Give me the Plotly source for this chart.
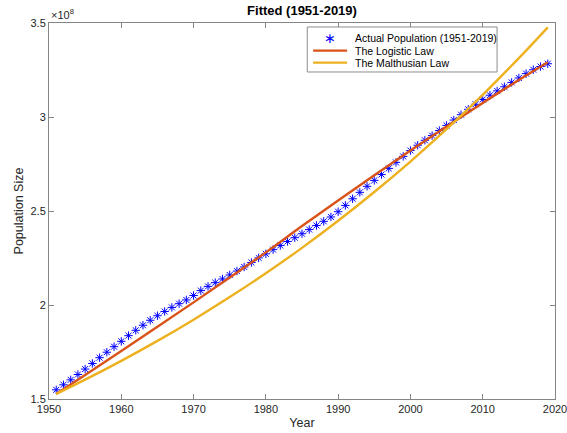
import plotly.graph_objects as go

# Actual population (millions)
years = list(range(1951, 2020))
population_millions = [
    154.88, 157.55, 160.18, 163.03, 165.93, 168.90, 171.98, 174.88, 177.83, 180.67,
    183.69, 186.54, 189.24, 191.89, 194.30, 196.56, 198.71, 200.71, 202.68, 205.05,
    207.66, 209.90, 211.91, 213.85, 215.97, 218.04, 220.24, 222.59, 225.06, 227.22,
    229.47, 231.66, 233.79, 235.82, 237.92, 240.13, 242.29, 244.50, 246.82, 249.62,
    252.98, 256.51, 259.92, 263.13, 266.28, 269.39, 272.65, 275.85, 279.04, 282.16,
    284.97, 287.63, 290.11, 292.81, 295.52, 298.38, 301.23, 304.09, 306.77, 309.33,
    311.58, 313.87, 316.06, 318.39, 320.74, 323.07, 325.15, 326.84, 328.33,
]

# Fitted curves (units of 1e8)
fit_years = [1951, 1955, 1960, 1965, 1970, 1975, 1980, 1985, 1990, 1995, 2000, 2005, 2010, 2015, 2019]
logistic_fit = [1.527, 1.628, 1.755, 1.884, 2.014, 2.146, 2.280, 2.420, 2.556, 2.690, 2.822, 2.950, 3.075, 3.197, 3.291]
malthus_fit = [1.527, 1.603, 1.703, 1.809, 1.922, 2.042, 2.169, 2.304, 2.448, 2.601, 2.763, 2.935, 3.118, 3.313, 3.477]

series_names = ["Actual Population (1951-2019)", "The Logistic Law", "The Malthusian Law"]
x_ticks = [1950, 1960, 1970, 1980, 1990, 2000, 2010, 2020]
y_ticks = [1.5, 2, 2.5, 3, 3.5]
y_tick_labels = ["1.5", "2", "2.5", "3", "3.5"]

pop_scaled = [p / 100.0 for p in population_millions]

font_family = "Liberation Sans, Arial, Helvetica, sans-serif"
axis_color = "#858585"
text_color = "#262626"
blue = "#0000FF"
red = "#D95319"
yellow = "#EDB120"

fig = go.Figure()
fig.add_trace(go.Scatter(
    x=years, y=pop_scaled, mode="markers", name=series_names[0],
    marker=dict(symbol="asterisk-open", size=7, color=blue, line=dict(color=blue, width=1)),
))
fig.add_trace(go.Scatter(
    x=fit_years, y=logistic_fit, mode="lines", name=series_names[1],
    line=dict(color=red, width=2.4, shape="spline"),
))
fig.add_trace(go.Scatter(
    x=fit_years, y=malthus_fit, mode="lines", name=series_names[2],
    line=dict(color=yellow, width=2.4, shape="spline"),
))

# Compact MATLAB-style legend (paper coordinates)
lx0, lx1, ly0, ly1 = 0.5104, 0.8855, 0.8697, 0.9894
row_y = [0.9601, 0.9265, 0.8946]
sample_x0, sample_x1 = 0.5220, 0.5891
text_x = 0.6010
shapes = [dict(type="rect", xref="paper", yref="paper", x0=lx0, x1=lx1, y0=ly0, y1=ly1,
               line=dict(color="#8c8c8c", width=1), fillcolor="white", layer="above")]
for ry, col in zip(row_y[1:], [red, yellow]):
    shapes.append(dict(type="line", xref="paper", yref="paper", x0=sample_x0, x1=sample_x1,
                       y0=ry, y1=ry, line=dict(color=col, width=2.4), layer="above"))
annotations = []
for ry, name in zip(row_y, series_names):
    annotations.append(dict(text=name, xref="paper", yref="paper", x=text_x, y=ry,
                            xanchor="left", yanchor="middle", showarrow=False,
                            font=dict(size=10.5, color="#000000")))
annotations.append(dict(text="∗", xref="paper", yref="paper", x=(sample_x0 + sample_x1) / 2,
                        y=row_y[0], xanchor="center", yanchor="middle", showarrow=False,
                        font=dict(size=14, color=blue)))
annotations.append(dict(
    text="×10<sup>8</sup>", xref="paper", yref="paper", x=0.0, y=1.0,
    xanchor="left", yanchor="bottom", showarrow=False, yshift=0,
    font=dict(size=11, color=text_color),
))

fig.update_layout(
    width=567, height=433,
    margin=dict(l=49, r=12, t=23, b=34),
    paper_bgcolor="white", plot_bgcolor="white",
    font=dict(family=font_family, size=11, color=text_color),
    title=dict(text="<b>Fitted (1951-2019)</b>", x=(49 + 555) / 2 / 567, xanchor="center",
               y=1 - 10 / 433, yanchor="middle", font=dict(size=13, color="#000000")),
    showlegend=False,
    shapes=shapes,
    annotations=annotations,
)
fig.update_xaxes(
    range=[1950, 2020], tickvals=x_ticks, ticks="inside", ticklen=5,
    showline=True, linecolor=axis_color, linewidth=1, mirror="ticks",
    tickcolor=axis_color, showgrid=False, zeroline=False, automargin=False,
    ticklabeloverflow="allow",
    title=dict(text="Year", font=dict(size=12.5), standoff=4),
    tickfont=dict(size=11),
)
fig.update_yaxes(
    range=[1.5, 3.5], tickvals=y_ticks, ticktext=y_tick_labels, ticks="inside", ticklen=5,
    showline=True, linecolor=axis_color, linewidth=1, mirror="ticks",
    tickcolor=axis_color, showgrid=False, zeroline=False, automargin=False,
    ticklabeloverflow="allow",
    title=dict(text="Population Size", font=dict(size=12.5), standoff=4),
    tickfont=dict(size=11),
)

fig.write_html("out.html", config={"displayModeBar": False},
               post_script="document.body.style.margin='0px';document.body.style.overflow='hidden';")
